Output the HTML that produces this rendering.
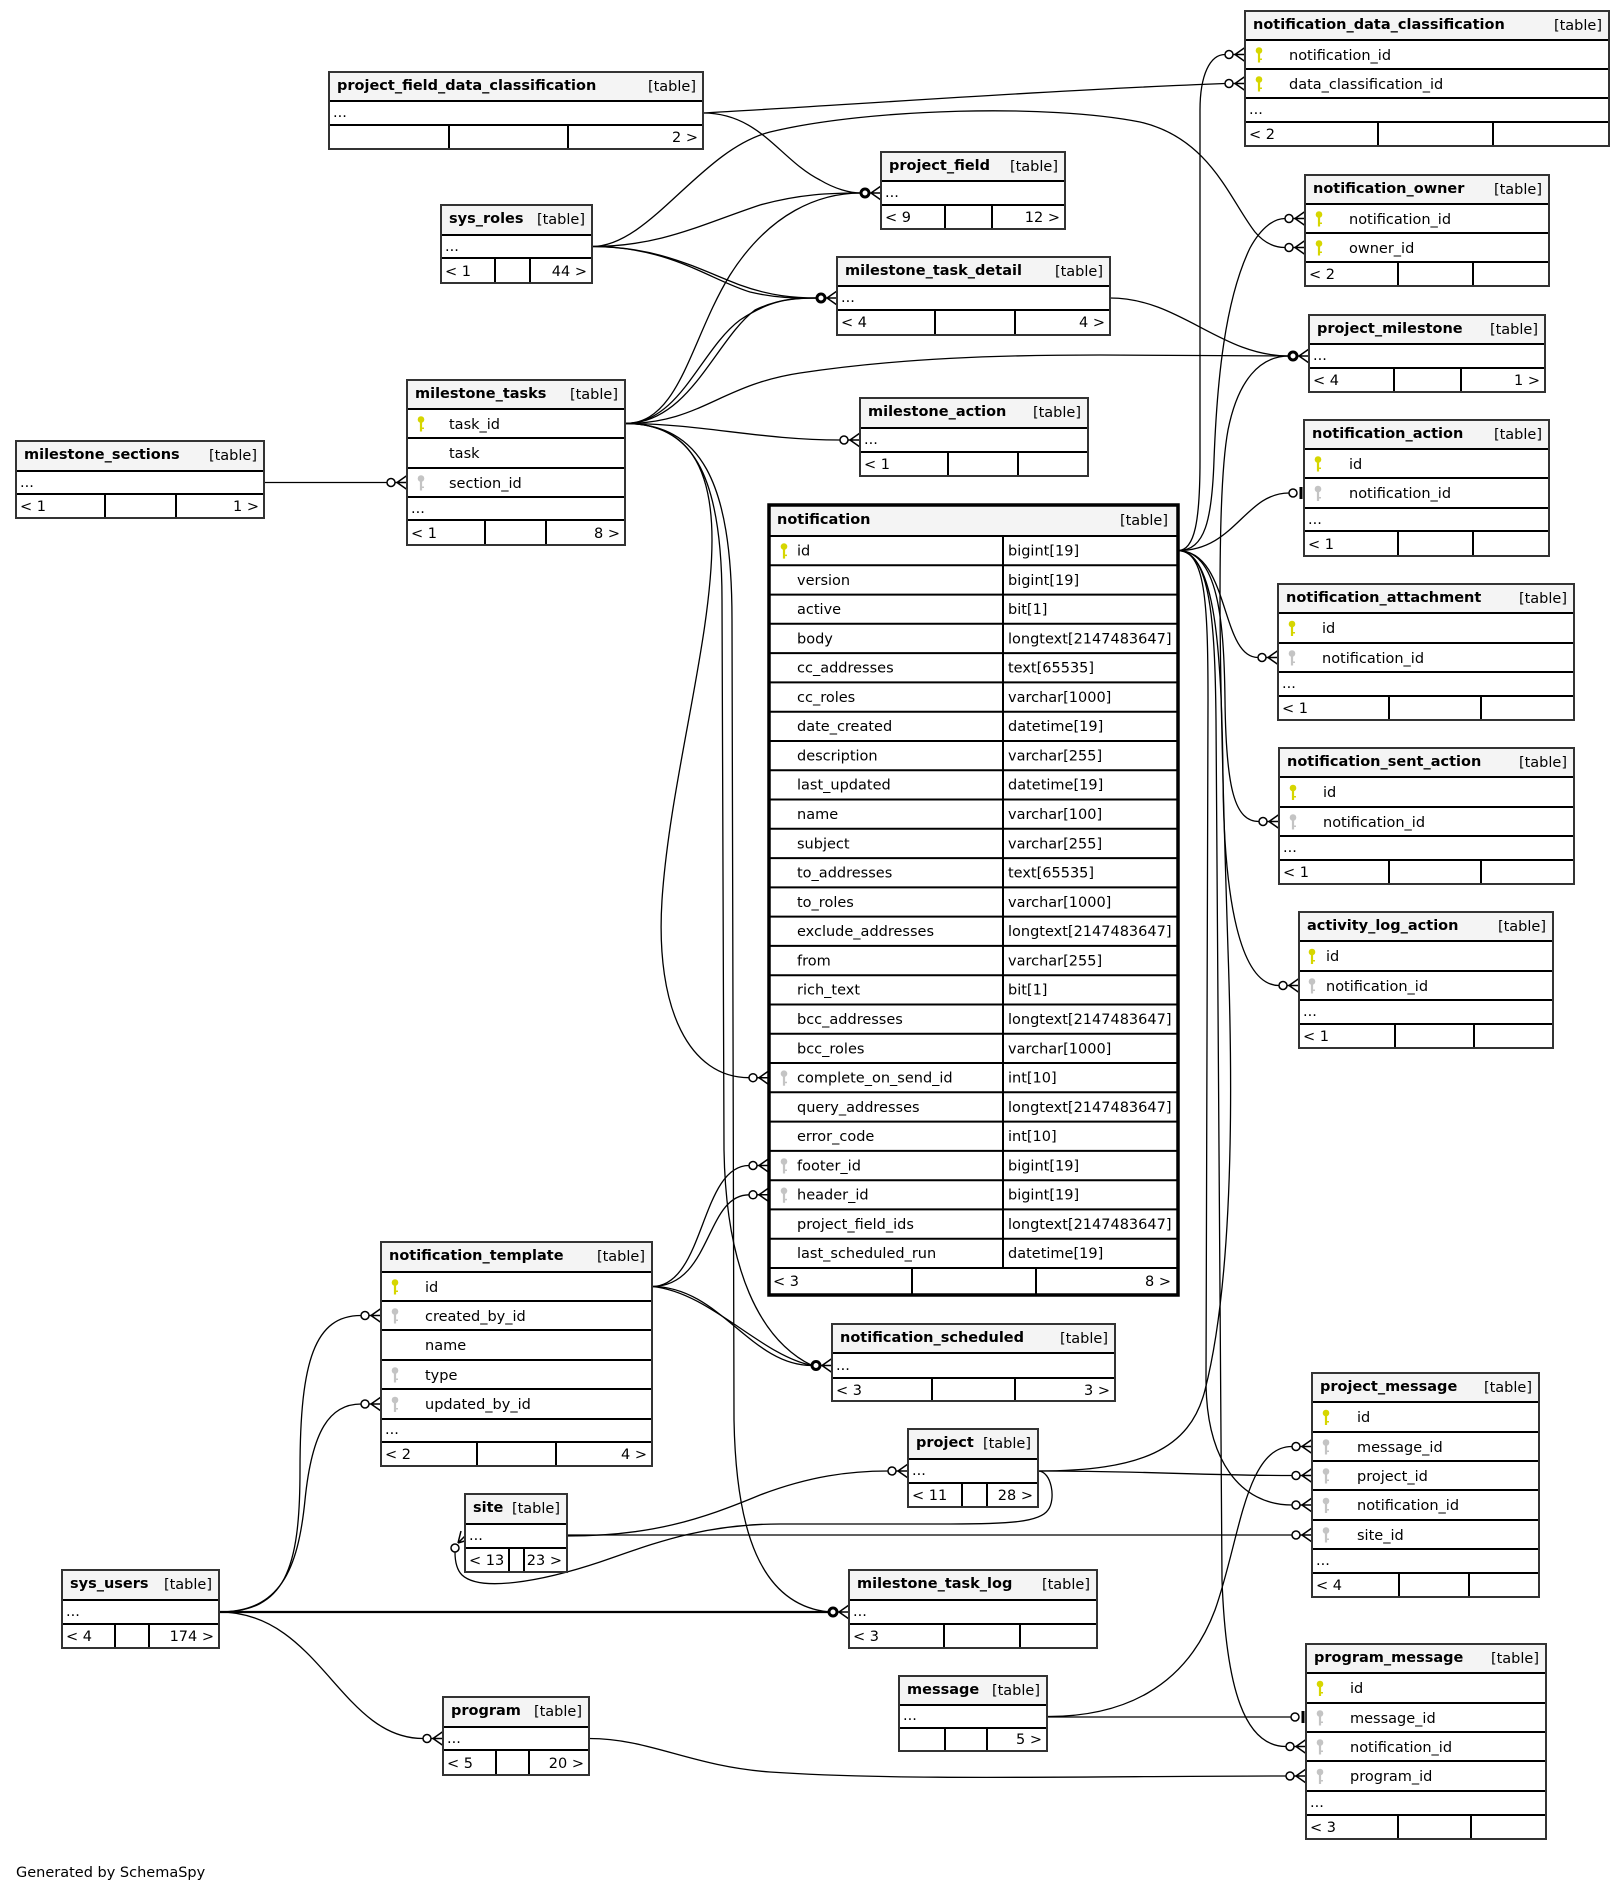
<!DOCTYPE html>
<html><head><meta charset="utf-8"><style>
html,body{margin:0;padding:0;background:#fff;}
svg{display:block}
svg text{font-family:"DejaVu Sans","Liberation Sans",sans-serif;font-size:14.5px;fill:#000}
.b{font-weight:bold}
.e{text-anchor:end}
.w{fill:#fff}
.h{fill:#f4f4f4}
.ln{stroke:#000;stroke-width:2;fill:none}
.bd{fill:none;stroke:#333;stroke-width:2}
.ed{fill:none;stroke:#000;stroke-width:1.3}
.mk{fill:#fff;stroke:#000;stroke-width:1.5}
.mt{fill:#fff;stroke:#000;stroke-width:3}
.cf{fill:none;stroke:#000;stroke-width:1.5}
.pk{fill:#d6d600}
.fk{fill:#c4c4c4}
</style></head><body>
<svg width="1624" height="1893" viewBox="0 0 1624 1893" xmlns="http://www.w3.org/2000/svg">
<rect width="1624" height="1893" fill="#fff"/>

<!-- ================= EDGES ================= -->
<g class="ed">
<path d="M264 482.5H387"/>
<path d="M625 423.5C680 423.5 690 340 730 275C770 212 820 193 861 193"/>
<path d="M625 423.5C680 423.5 700 350 740 320C770 300 790 298 817 298"/>
<path d="M625 423.5C690 423.5 715 340 755 310C780 298 800 298 817 298"/>
<path d="M592 246.5C660 246.5 700 270 740 285C770 296 795 298 817 298"/>
<path d="M592 246.5C670 246.5 710 280 750 292C780 299 800 298 817 298"/>
<path d="M592 246.5C660 246.5 700 225 760 205C800 194 830 193 861 193"/>
<path d="M592 246.5C650 246.5 700 150 770 132C870 108 1050 104 1140 122C1210 138 1230 200 1255 232C1265 244 1275 247.5 1285 247.5"/>
<path d="M703 113C800 108 1050 90 1225 83.5"/>
<path d="M703 113C760 113 780 160 820 180C835 189 850 193 861 193"/>
<path d="M625 423.5C700 423.5 720 385 800 373C900 358 1000 355 1100 355L1289 356"/>
<path d="M1110 298C1180 298 1220 356 1289 356"/>
<path d="M625 423.5C700 423.5 760 440 840 440"/>
<path d="M625 423.5C690 423.5 712 470 712 540C712 640 670 780 662 900C655 1010 690 1077.7 749 1077.7"/>
<path d="M625 423.5C690 423.5 722 470 722 600L724 1150C726 1270 760 1340 812 1365.5"/>
<path d="M625 423.5C700 423.5 732 480 732 620L734 1420C736 1530 760 1605 829 1612"/>
<path d="M652 1286.5C705 1286.5 700 1165.5 749 1165.5"/>
<path d="M652 1286.5C712 1286.5 705 1194.8 749 1194.8"/>
<path d="M652 1286.5C720 1286.5 750 1365.5 812 1365.5"/>
<path d="M652 1286.5C710 1292 760 1355 812 1365.5"/>
<path d="M219 1612C285 1612 300 1570 300 1470C300 1360 315 1315.5 361 1315.5"/>
<path d="M219 1612C280 1612 298 1570 305 1500C312 1430 330 1404 361 1404"/>
<path d="M219 1612H829" style="stroke-width:2.2"/>
<path d="M219 1612C320 1612 340 1738.5 423 1738.5"/>
<path d="M589 1738.5C650 1738.5 690 1766 770 1772C900 1781 1100 1776 1286 1776"/>
<path d="M1048 1717H1291"/>
<path d="M1048 1716.5C1120 1716.5 1185 1690 1215 1610C1240 1540 1245 1446.5 1292 1446.5"/>
<path d="M1038 1471C1150 1471 1200 1475.5 1292 1475.5"/>
<path d="M1038 1471C1140 1471 1190 1450 1205 1390C1228 1300 1235 1150 1228 950C1220 700 1215 500 1228 430C1238 380 1260 356 1289 356"/>
<path d="M567 1536C650 1536 700 1520 760 1495C810 1476 850 1471 888 1471"/>
<path d="M567 1535H1292"/>
<path d="M1038 1471C1052 1471 1056 1500 1048 1510C1040 1522 1010 1524 950 1524L780 1524C700 1524 650 1545 600 1562C540 1582 480 1592 462 1575C456 1569 455 1560 455 1552"/>
<path d="M1178 550.6C1195 550.6 1200 520 1200 460L1200 110C1200 75 1210 54.5 1225 54.5"/>
<path d="M1178 550.6C1205 550.6 1212 520 1214 460C1217 380 1225 300 1250 248C1262 226 1275 218.5 1285 218.5"/>
<path d="M1178 550.6C1235 550.6 1245 493 1289 493"/>
<path d="M1178 550.6C1230 550.6 1220 657.5 1258 657.5"/>
<path d="M1178 550.6C1218 550.6 1224 620 1225 700C1226 790 1235 821.5 1259 821.5"/>
<path d="M1178 550.6C1215 550.6 1222 650 1223 780C1224 900 1240 985.5 1279 985.5"/>
<path d="M1178 550.6C1205 550.6 1208 600 1208 700L1206 1380C1206 1460 1240 1505 1292 1505"/>
<path d="M1178 550.6C1210 550.6 1215 620 1216 720L1222 1580C1226 1690 1245 1746.5 1286 1746.5"/>
</g>

<!-- ================= MARKERS ================= -->
<!-- crow + odot: circle at bx-16, crow tip at bx-10 -->
<g>
<circle class="mk" cx="391" cy="482.5" r="4"/><path class="cf" d="M397 482.5L407 475.5M397 482.5L407 489.5M395 482.5H407"/>
<circle class="mt" cx="865" cy="193" r="4"/><path class="cf" d="M871 193L881 186M871 193L881 200M869 193H881"/>
<circle class="mt" cx="821" cy="298" r="4"/><path class="cf" d="M827 298L837 291M827 298L837 305M825 298H837"/>
<circle class="mk" cx="1229" cy="54.5" r="4"/><path class="cf" d="M1235 54.5L1245 47.5M1235 54.5L1245 61.5M1233 54.5H1245"/>
<circle class="mk" cx="1229" cy="83.5" r="4"/><path class="cf" d="M1235 83.5L1245 76.5M1235 83.5L1245 90.5M1233 83.5H1245"/>
<circle class="mk" cx="1289" cy="218.5" r="4"/><path class="cf" d="M1295 218.5L1305 211.5M1295 218.5L1305 225.5M1293 218.5H1305"/>
<circle class="mk" cx="1289" cy="247.5" r="4"/><path class="cf" d="M1295 247.5L1305 240.5M1295 247.5L1305 254.5M1293 247.5H1305"/>
<circle class="mt" cx="1293" cy="356" r="4"/><path class="cf" d="M1299 356L1309 349M1299 356L1309 363M1297 356H1309"/>
<circle class="mk" cx="844" cy="440" r="4"/><path class="cf" d="M850 440L860 433M850 440L860 447M848 440H860"/>
<circle class="mk" cx="1262" cy="657.5" r="4"/><path class="cf" d="M1268 657.5L1278 650.5M1268 657.5L1278 664.5M1266 657.5H1278"/>
<circle class="mk" cx="1263" cy="821.5" r="4"/><path class="cf" d="M1269 821.5L1279 814.5M1269 821.5L1279 828.5M1267 821.5H1279"/>
<circle class="mk" cx="1283" cy="985.5" r="4"/><path class="cf" d="M1289 985.5L1299 978.5M1289 985.5L1299 992.5M1287 985.5H1299"/>
<circle class="mk" cx="753" cy="1077.7" r="4"/><path class="cf" d="M759 1077.7L769 1070.7M759 1077.7L769 1084.7M757 1077.7H769"/>
<circle class="mk" cx="753" cy="1165.5" r="4"/><path class="cf" d="M759 1165.5L769 1158.5M759 1165.5L769 1172.5M757 1165.5H769"/>
<circle class="mk" cx="753" cy="1194.8" r="4"/><path class="cf" d="M759 1194.8L769 1187.8M759 1194.8L769 1201.8M757 1194.8H769"/>
<circle class="mk" cx="365" cy="1315.5" r="4"/><path class="cf" d="M371 1315.5L381 1308.5M371 1315.5L381 1322.5M369 1315.5H381"/>
<circle class="mk" cx="365" cy="1404" r="4"/><path class="cf" d="M371 1404L381 1397M371 1404L381 1411M369 1404H381"/>
<circle class="mt" cx="816" cy="1365.5" r="4"/><path class="cf" d="M822 1365.5L832 1358.5M822 1365.5L832 1372.5M820 1365.5H832"/>
<circle class="mk" cx="892" cy="1471" r="4"/><path class="cf" d="M898 1471L908 1464M898 1471L908 1478M896 1471H908"/>
<circle class="mt" cx="833" cy="1612" r="4"/><path class="cf" d="M839 1612L849 1605M839 1612L849 1619M837 1612H849"/>
<circle class="mk" cx="427" cy="1738.5" r="4"/><path class="cf" d="M433 1738.5L443 1731.5M433 1738.5L443 1745.5M431 1738.5H443"/>
<circle class="mk" cx="1296" cy="1446.5" r="4"/><path class="cf" d="M1302 1446.5L1312 1439.5M1302 1446.5L1312 1453.5M1300 1446.5H1312"/>
<circle class="mk" cx="1296" cy="1475.5" r="4"/><path class="cf" d="M1302 1475.5L1312 1468.5M1302 1475.5L1312 1482.5M1300 1475.5H1312"/>
<circle class="mk" cx="1296" cy="1505" r="4"/><path class="cf" d="M1302 1505L1312 1498M1302 1505L1312 1512M1300 1505H1312"/>
<circle class="mk" cx="1296" cy="1535" r="4"/><path class="cf" d="M1302 1535L1312 1528M1302 1535L1312 1542M1300 1535H1312"/>
<circle class="mk" cx="1290" cy="1746.5" r="4"/><path class="cf" d="M1296 1746.5L1306 1739.5M1296 1746.5L1306 1753.5M1294 1746.5H1306"/>
<circle class="mk" cx="1290" cy="1776" r="4"/><path class="cf" d="M1296 1776L1306 1769M1296 1776L1306 1783M1294 1776H1306"/>
<!-- tee + odot -->
<circle class="mk" cx="1293" cy="493" r="4"/><path d="M1301 487V499" stroke="#000" stroke-width="3"/>
<circle class="mk" cx="1295" cy="1717" r="4"/><path d="M1303 1711V1723" stroke="#000" stroke-width="3"/>
<!-- site loop marker -->
<circle class="mk" cx="455" cy="1548" r="4"/><path class="cf" d="M458 1543L461 1531M458 1543L468 1540M458 1543L465 1536"/>
</g>

<!-- ================= TABLES ================= -->

<!-- project_field_data_classification -->
<rect class="w" x="329" y="72" width="374" height="77"/><rect class="h" x="329" y="72" width="374" height="29"/>
<path class="ln" d="M329 101H703M329 125H703M449 125V149M568 125V149"/>
<rect class="bd" x="329" y="72" width="374" height="77"/>
<text x="337" y="90" class="b">project_field_data_classification</text><text x="696" y="91" class="e">[table]</text>
<text x="333" y="117">...</text><text x="698" y="142" class="e">2 &gt;</text>

<!-- sys_roles -->
<rect class="w" x="441" y="205" width="151" height="78"/><rect class="h" x="441" y="205" width="151" height="30"/>
<path class="ln" d="M441 235H592M441 258H592M495 258V283M530 258V283"/>
<rect class="bd" x="441" y="205" width="151" height="78"/>
<text x="449" y="223" class="b">sys_roles</text><text x="585" y="224" class="e">[table]</text>
<text x="445" y="251">...</text><text x="445" y="276">&lt; 1</text><text x="587" y="276" class="e">44 &gt;</text>

<!-- milestone_tasks -->
<rect class="w" x="407" y="380" width="218" height="165"/><rect class="h" x="407" y="380" width="218" height="29"/>
<path class="ln" d="M407 409H625M407 438H625M407 468H625M407 497H625M407 520H625M485 520V545M546 520V545"/>
<rect class="bd" x="407" y="380" width="218" height="165"/>
<text x="415" y="398" class="b">milestone_tasks</text><text x="618" y="399" class="e">[table]</text>
<g class="pk"><circle cx="421" cy="419.5" r="3.3"/><rect x="419.9" y="420.5" width="2.2" height="11"/><rect x="422" y="427.5" width="2" height="1.5"/></g>
<text x="449" y="429">task_id</text>
<text x="449" y="458">task</text>
<g class="fk"><circle cx="421" cy="478.5" r="3.3"/><rect x="419.9" y="479.5" width="2.2" height="11"/><rect x="422" y="486.5" width="2" height="1.5"/></g>
<text x="449" y="488">section_id</text>
<text x="411" y="513">...</text><text x="411" y="538">&lt; 1</text><text x="620" y="538" class="e">8 &gt;</text>

<!-- milestone_sections -->
<rect class="w" x="16" y="441" width="248" height="77"/><rect class="h" x="16" y="441" width="248" height="30"/>
<path class="ln" d="M16 471H264M16 494H264M105 494V518M176 494V518"/>
<rect class="bd" x="16" y="441" width="248" height="77"/>
<text x="24" y="459" class="b">milestone_sections</text><text x="257" y="460" class="e">[table]</text>
<text x="20" y="487">...</text><text x="20" y="511">&lt; 1</text><text x="259" y="511" class="e">1 &gt;</text>

<!-- notification_data_classification -->
<rect class="w" x="1245" y="11" width="364" height="135"/><rect class="h" x="1245" y="11" width="364" height="29"/>
<path class="ln" d="M1245 40H1609M1245 69H1609M1245 98H1609M1245 122H1609M1378 122V146M1493 122V146"/>
<rect class="bd" x="1245" y="11" width="364" height="135"/>
<text x="1253" y="29" class="b">notification_data_classification</text><text x="1602" y="30" class="e">[table]</text>
<g class="pk"><circle cx="1259" cy="50.5" r="3.3"/><rect x="1257.9" y="51.5" width="2.2" height="11"/><rect x="1260" y="58.5" width="2" height="1.5"/></g>
<text x="1289" y="60">notification_id</text>
<g class="pk"><circle cx="1259" cy="79.5" r="3.3"/><rect x="1257.9" y="80.5" width="2.2" height="11"/><rect x="1260" y="87.5" width="2" height="1.5"/></g>
<text x="1289" y="89">data_classification_id</text>
<text x="1249" y="114">...</text><text x="1249" y="139">&lt; 2</text>

<!-- project_field -->
<rect class="w" x="881" y="152" width="184" height="77"/><rect class="h" x="881" y="152" width="184" height="29"/>
<path class="ln" d="M881 181H1065M881 205H1065M945 205V229M992 205V229"/>
<rect class="bd" x="881" y="152" width="184" height="77"/>
<text x="889" y="170" class="b">project_field</text><text x="1058" y="171" class="e">[table]</text>
<text x="885" y="197">...</text><text x="885" y="222">&lt; 9</text><text x="1060" y="222" class="e">12 &gt;</text>

<!-- notification_owner -->
<rect class="w" x="1305" y="175" width="244" height="111"/><rect class="h" x="1305" y="175" width="244" height="29"/>
<path class="ln" d="M1305 204H1549M1305 233H1549M1305 262H1549M1398 262V286M1473 262V286"/>
<rect class="bd" x="1305" y="175" width="244" height="111"/>
<text x="1313" y="193" class="b">notification_owner</text><text x="1542" y="194" class="e">[table]</text>
<g class="pk"><circle cx="1319" cy="214.5" r="3.3"/><rect x="1317.9" y="215.5" width="2.2" height="11"/><rect x="1320" y="222.5" width="2" height="1.5"/></g>
<text x="1349" y="224">notification_id</text>
<g class="pk"><circle cx="1319" cy="243.5" r="3.3"/><rect x="1317.9" y="244.5" width="2.2" height="11"/><rect x="1320" y="251.5" width="2" height="1.5"/></g>
<text x="1349" y="253">owner_id</text>
<text x="1309" y="279">&lt; 2</text>

<!-- milestone_task_detail -->
<rect class="w" x="837" y="257" width="273" height="78"/><rect class="h" x="837" y="257" width="273" height="29"/>
<path class="ln" d="M837 286H1110M837 310H1110M935 310V335M1015 310V335"/>
<rect class="bd" x="837" y="257" width="273" height="78"/>
<text x="845" y="275" class="b">milestone_task_detail</text><text x="1103" y="276" class="e">[table]</text>
<text x="841" y="302">...</text><text x="841" y="327">&lt; 4</text><text x="1105" y="327" class="e">4 &gt;</text>

<!-- project_milestone -->
<rect class="w" x="1309" y="315" width="236" height="77"/><rect class="h" x="1309" y="315" width="236" height="29"/>
<path class="ln" d="M1309 344H1545M1309 368H1545M1394 368V392M1461 368V392"/>
<rect class="bd" x="1309" y="315" width="236" height="77"/>
<text x="1317" y="333" class="b">project_milestone</text><text x="1538" y="334" class="e">[table]</text>
<text x="1313" y="360">...</text><text x="1313" y="385">&lt; 4</text><text x="1540" y="385" class="e">1 &gt;</text>

<!-- milestone_action -->
<rect class="w" x="860" y="398" width="228" height="78"/><rect class="h" x="860" y="398" width="228" height="30"/>
<path class="ln" d="M860 428H1088M860 452H1088M948 452V476M1018 452V476"/>
<rect class="bd" x="860" y="398" width="228" height="78"/>
<text x="868" y="416" class="b">milestone_action</text><text x="1081" y="417" class="e">[table]</text>
<text x="864" y="444">...</text><text x="864" y="469">&lt; 1</text>

<!-- notification_action -->
<rect class="w" x="1304" y="420" width="245" height="136"/><rect class="h" x="1304" y="420" width="245" height="29"/>
<path class="ln" d="M1304 449H1549M1304 478H1549M1304 508H1549M1304 531H1549M1398 531V556M1473 531V556"/>
<rect class="bd" x="1304" y="420" width="245" height="136"/>
<text x="1312" y="438" class="b">notification_action</text><text x="1542" y="439" class="e">[table]</text>
<g class="pk"><circle cx="1318" cy="459.5" r="3.3"/><rect x="1316.9" y="460.5" width="2.2" height="11"/><rect x="1319" y="467.5" width="2" height="1.5"/></g>
<text x="1349" y="469">id</text>
<g class="fk"><circle cx="1318" cy="489" r="3.3"/><rect x="1316.9" y="490" width="2.2" height="11"/><rect x="1319" y="497" width="2" height="1.5"/></g>
<text x="1349" y="498">notification_id</text>
<text x="1308" y="524">...</text><text x="1308" y="549">&lt; 1</text>

<!-- notification_attachment -->
<rect class="w" x="1278" y="584" width="296" height="136"/><rect class="h" x="1278" y="584" width="296" height="29"/>
<path class="ln" d="M1278 613H1574M1278 643H1574M1278 672H1574M1278 696H1574M1389 696V720M1481 696V720"/>
<rect class="bd" x="1278" y="584" width="296" height="136"/>
<text x="1286" y="602" class="b">notification_attachment</text><text x="1567" y="603" class="e">[table]</text>
<g class="pk"><circle cx="1292" cy="624" r="3.3"/><rect x="1290.9" y="625" width="2.2" height="11"/><rect x="1293" y="632" width="2" height="1.5"/></g>
<text x="1322" y="633">id</text>
<g class="fk"><circle cx="1292" cy="653.5" r="3.3"/><rect x="1290.9" y="654.5" width="2.2" height="11"/><rect x="1293" y="661.5" width="2" height="1.5"/></g>
<text x="1322" y="663">notification_id</text>
<text x="1282" y="688">...</text><text x="1282" y="713">&lt; 1</text>

<!-- notification_sent_action -->
<rect class="w" x="1279" y="748" width="295" height="136"/><rect class="h" x="1279" y="748" width="295" height="29"/>
<path class="ln" d="M1279 777H1574M1279 807H1574M1279 836H1574M1279 860H1574M1389 860V884M1481 860V884"/>
<rect class="bd" x="1279" y="748" width="295" height="136"/>
<text x="1287" y="766" class="b">notification_sent_action</text><text x="1567" y="767" class="e">[table]</text>
<g class="pk"><circle cx="1293" cy="788" r="3.3"/><rect x="1291.9" y="789" width="2.2" height="11"/><rect x="1294" y="796" width="2" height="1.5"/></g>
<text x="1323" y="797">id</text>
<g class="fk"><circle cx="1293" cy="817.5" r="3.3"/><rect x="1291.9" y="818.5" width="2.2" height="11"/><rect x="1294" y="825.5" width="2" height="1.5"/></g>
<text x="1323" y="827">notification_id</text>
<text x="1283" y="852">...</text><text x="1283" y="877">&lt; 1</text>

<!-- activity_log_action -->
<rect class="w" x="1299" y="912" width="254" height="136"/><rect class="h" x="1299" y="912" width="254" height="29"/>
<path class="ln" d="M1299 941H1553M1299 971H1553M1299 1000H1553M1299 1024H1553M1395 1024V1048M1474 1024V1048"/>
<rect class="bd" x="1299" y="912" width="254" height="136"/>
<text x="1307" y="930" class="b">activity_log_action</text><text x="1546" y="931" class="e">[table]</text>
<g class="pk"><circle cx="1312" cy="952" r="3.3"/><rect x="1310.9" y="953" width="2.2" height="11"/><rect x="1313" y="960" width="2" height="1.5"/></g>
<text x="1326" y="961">id</text>
<g class="fk"><circle cx="1312" cy="981.5" r="3.3"/><rect x="1310.9" y="982.5" width="2.2" height="11"/><rect x="1313" y="989.5" width="2" height="1.5"/></g>
<text x="1326" y="991">notification_id</text>
<text x="1303" y="1016">...</text><text x="1303" y="1041">&lt; 1</text>

<!-- notification -->
<rect class="w" x="769" y="505" width="409" height="790"/><rect class="h" x="769" y="505" width="409" height="31"/>
<path class="ln" d="M769 536H1178M769 565.3H1178M769 594.6H1178M769 623.8H1178M769 653.1H1178M769 682.4H1178M769 711.7H1178M769 741H1178M769 770.2H1178M769 799.5H1178M769 828.8H1178M769 858.1H1178M769 887.4H1178M769 916.6H1178M769 945.9H1178M769 975.2H1178M769 1004.5H1178M769 1033.8H1178M769 1063H1178M769 1092.3H1178M769 1121.6H1178M769 1150.9H1178M769 1180.2H1178M769 1209.4H1178M769 1238.7H1178M769 1268H1178M1003 536V1268M912 1268V1295M1036 1268V1295"/>
<rect x="769" y="505" width="409" height="790" fill="none" stroke="#000" stroke-width="3.5"/>
<text x="777" y="524" class="b">notification</text><text x="1168" y="525" class="e">[table]</text>
<g class="pk"><circle cx="784" cy="546.6" r="3.3"/><rect x="782.9" y="547.6" width="2.2" height="11"/><rect x="785" y="554.6" width="2" height="1.5"/></g>
<text x="797" y="555.5">id</text><text x="1008" y="555.5">bigint[19]</text>
<text x="797" y="584.8">version</text><text x="1008" y="584.8">bigint[19]</text>
<text x="797" y="614.1">active</text><text x="1008" y="614.1">bit[1]</text>
<text x="797" y="643.3">body</text><text x="1008" y="643.3">longtext[2147483647]</text>
<text x="797" y="672.6">cc_addresses</text><text x="1008" y="672.6">text[65535]</text>
<text x="797" y="701.9">cc_roles</text><text x="1008" y="701.9">varchar[1000]</text>
<text x="797" y="731.2">date_created</text><text x="1008" y="731.2">datetime[19]</text>
<text x="797" y="760.5">description</text><text x="1008" y="760.5">varchar[255]</text>
<text x="797" y="789.7">last_updated</text><text x="1008" y="789.7">datetime[19]</text>
<text x="797" y="819">name</text><text x="1008" y="819">varchar[100]</text>
<text x="797" y="848.3">subject</text><text x="1008" y="848.3">varchar[255]</text>
<text x="797" y="877.6">to_addresses</text><text x="1008" y="877.6">text[65535]</text>
<text x="797" y="906.9">to_roles</text><text x="1008" y="906.9">varchar[1000]</text>
<text x="797" y="936.1">exclude_addresses</text><text x="1008" y="936.1">longtext[2147483647]</text>
<text x="797" y="965.4">from</text><text x="1008" y="965.4">varchar[255]</text>
<text x="797" y="994.7">rich_text</text><text x="1008" y="994.7">bit[1]</text>
<text x="797" y="1024">bcc_addresses</text><text x="1008" y="1024">longtext[2147483647]</text>
<text x="797" y="1053.3">bcc_roles</text><text x="1008" y="1053.3">varchar[1000]</text>
<g class="fk"><circle cx="784" cy="1073.7" r="3.3"/><rect x="782.9" y="1074.7" width="2.2" height="11"/><rect x="785" y="1081.7" width="2" height="1.5"/></g>
<text x="797" y="1082.5">complete_on_send_id</text><text x="1008" y="1082.5">int[10]</text>
<text x="797" y="1111.8">query_addresses</text><text x="1008" y="1111.8">longtext[2147483647]</text>
<text x="797" y="1141.1">error_code</text><text x="1008" y="1141.1">int[10]</text>
<g class="fk"><circle cx="784" cy="1161.5" r="3.3"/><rect x="782.9" y="1162.5" width="2.2" height="11"/><rect x="785" y="1169.5" width="2" height="1.5"/></g>
<text x="797" y="1170.4">footer_id</text><text x="1008" y="1170.4">bigint[19]</text>
<g class="fk"><circle cx="784" cy="1190.8" r="3.3"/><rect x="782.9" y="1191.8" width="2.2" height="11"/><rect x="785" y="1198.8" width="2" height="1.5"/></g>
<text x="797" y="1199.7">header_id</text><text x="1008" y="1199.7">bigint[19]</text>
<text x="797" y="1228.9">project_field_ids</text><text x="1008" y="1228.9">longtext[2147483647]</text>
<text x="797" y="1258.2">last_scheduled_run</text><text x="1008" y="1258.2">datetime[19]</text>
<text x="773" y="1286">&lt; 3</text><text x="1171" y="1286" class="e">8 &gt;</text>

<!-- notification_template -->
<rect class="w" x="381" y="1242" width="271" height="224"/><rect class="h" x="381" y="1242" width="271" height="30"/>
<path class="ln" d="M381 1272H652M381 1301H652M381 1330H652M381 1360H652M381 1389H652M381 1419H652M381 1442H652M477 1442V1466M556 1442V1466"/>
<rect class="bd" x="381" y="1242" width="271" height="224"/>
<text x="389" y="1260" class="b">notification_template</text><text x="645" y="1261" class="e">[table]</text>
<g class="pk"><circle cx="395" cy="1282.5" r="3.3"/><rect x="393.9" y="1283.5" width="2.2" height="11"/><rect x="396" y="1290.5" width="2" height="1.5"/></g>
<text x="425" y="1292">id</text>
<g class="fk"><circle cx="395" cy="1311.5" r="3.3"/><rect x="393.9" y="1312.5" width="2.2" height="11"/><rect x="396" y="1319.5" width="2" height="1.5"/></g>
<text x="425" y="1321">created_by_id</text>
<text x="425" y="1350">name</text>
<g class="fk"><circle cx="395" cy="1370.5" r="3.3"/><rect x="393.9" y="1371.5" width="2.2" height="11"/><rect x="396" y="1378.5" width="2" height="1.5"/></g>
<text x="425" y="1380">type</text>
<g class="fk"><circle cx="395" cy="1400" r="3.3"/><rect x="393.9" y="1401" width="2.2" height="11"/><rect x="396" y="1408" width="2" height="1.5"/></g>
<text x="425" y="1409">updated_by_id</text>
<text x="385" y="1434">...</text><text x="385" y="1459">&lt; 2</text><text x="647" y="1459" class="e">4 &gt;</text>

<!-- notification_scheduled -->
<rect class="w" x="832" y="1324" width="283" height="77"/><rect class="h" x="832" y="1324" width="283" height="29"/>
<path class="ln" d="M832 1353H1115M832 1378H1115M932 1378V1401M1015 1378V1401"/>
<rect class="bd" x="832" y="1324" width="283" height="77"/>
<text x="840" y="1342" class="b">notification_scheduled</text><text x="1108" y="1343" class="e">[table]</text>
<text x="836" y="1370">...</text><text x="836" y="1395">&lt; 3</text><text x="1110" y="1395" class="e">3 &gt;</text>

<!-- project -->
<rect class="w" x="908" y="1429" width="130" height="78"/><rect class="h" x="908" y="1429" width="130" height="30"/>
<path class="ln" d="M908 1459H1038M908 1483H1038M962 1483V1507M987 1483V1507"/>
<rect class="bd" x="908" y="1429" width="130" height="78"/>
<text x="916" y="1447" class="b">project</text><text x="1031" y="1448" class="e">[table]</text>
<text x="912" y="1475">...</text><text x="912" y="1500">&lt; 11</text><text x="1033" y="1500" class="e">28 &gt;</text>

<!-- milestone_task_log -->
<rect class="w" x="849" y="1570" width="248" height="78"/><rect class="h" x="849" y="1570" width="248" height="30"/>
<path class="ln" d="M849 1600H1097M849 1624H1097M944 1624V1648M1020 1624V1648"/>
<rect class="bd" x="849" y="1570" width="248" height="78"/>
<text x="857" y="1588" class="b">milestone_task_log</text><text x="1090" y="1589" class="e">[table]</text>
<text x="853" y="1616">...</text><text x="853" y="1641">&lt; 3</text>

<!-- message -->
<rect class="w" x="899" y="1676" width="148" height="75"/><rect class="h" x="899" y="1676" width="148" height="29"/>
<path class="ln" d="M899 1705H1047M899 1728H1047M945 1728V1751M987 1728V1751"/>
<rect class="bd" x="899" y="1676" width="148" height="75"/>
<text x="907" y="1694" class="b">message</text><text x="1040" y="1695" class="e">[table]</text>
<text x="903" y="1720">...</text><text x="1042" y="1744" class="e">5 &gt;</text>

<!-- site -->
<rect class="w" x="465" y="1494" width="102" height="78"/><rect class="h" x="465" y="1494" width="102" height="30"/>
<path class="ln" d="M465 1524H567M465 1548H567M509 1548V1572M524 1548V1572"/>
<rect class="bd" x="465" y="1494" width="102" height="78"/>
<text x="473" y="1512" class="b">site</text><text x="560" y="1513" class="e">[table]</text>
<text x="469" y="1540">...</text><text x="469" y="1565">&lt; 13</text><text x="562" y="1565" class="e">23 &gt;</text>

<!-- sys_users -->
<rect class="w" x="62" y="1570" width="157" height="78"/><rect class="h" x="62" y="1570" width="157" height="30"/>
<path class="ln" d="M62 1600H219M62 1624H219M115 1624V1648M149 1624V1648"/>
<rect class="bd" x="62" y="1570" width="157" height="78"/>
<text x="70" y="1588" class="b">sys_users</text><text x="212" y="1589" class="e">[table]</text>
<text x="66" y="1616">...</text><text x="66" y="1641">&lt; 4</text><text x="214" y="1641" class="e">174 &gt;</text>

<!-- program -->
<rect class="w" x="443" y="1697" width="146" height="78"/><rect class="h" x="443" y="1697" width="146" height="30"/>
<path class="ln" d="M443 1727H589M443 1750H589M496 1750V1775M529 1750V1775"/>
<rect class="bd" x="443" y="1697" width="146" height="78"/>
<text x="451" y="1715" class="b">program</text><text x="582" y="1716" class="e">[table]</text>
<text x="447" y="1743">...</text><text x="447" y="1768">&lt; 5</text><text x="584" y="1768" class="e">20 &gt;</text>

<!-- project_message -->
<rect class="w" x="1312" y="1373" width="227" height="224"/><rect class="h" x="1312" y="1373" width="227" height="29"/>
<path class="ln" d="M1312 1402H1539M1312 1432H1539M1312 1461H1539M1312 1490H1539M1312 1520H1539M1312 1549H1539M1312 1573H1539M1399 1573V1597M1469 1573V1597"/>
<rect class="bd" x="1312" y="1373" width="227" height="224"/>
<text x="1320" y="1391" class="b">project_message</text><text x="1532" y="1392" class="e">[table]</text>
<g class="pk"><circle cx="1326" cy="1413" r="3.3"/><rect x="1324.9" y="1414" width="2.2" height="11"/><rect x="1327" y="1421" width="2" height="1.5"/></g>
<text x="1357" y="1422">id</text>
<g class="fk"><circle cx="1326" cy="1442.5" r="3.3"/><rect x="1324.9" y="1443.5" width="2.2" height="11"/><rect x="1327" y="1450.5" width="2" height="1.5"/></g>
<text x="1357" y="1452">message_id</text>
<g class="fk"><circle cx="1326" cy="1471.5" r="3.3"/><rect x="1324.9" y="1472.5" width="2.2" height="11"/><rect x="1327" y="1479.5" width="2" height="1.5"/></g>
<text x="1357" y="1481">project_id</text>
<g class="fk"><circle cx="1326" cy="1501" r="3.3"/><rect x="1324.9" y="1502" width="2.2" height="11"/><rect x="1327" y="1509" width="2" height="1.5"/></g>
<text x="1357" y="1510">notification_id</text>
<g class="fk"><circle cx="1326" cy="1530.5" r="3.3"/><rect x="1324.9" y="1531.5" width="2.2" height="11"/><rect x="1327" y="1538.5" width="2" height="1.5"/></g>
<text x="1357" y="1540">site_id</text>
<text x="1316" y="1565">...</text><text x="1316" y="1590">&lt; 4</text>

<!-- program_message -->
<rect class="w" x="1306" y="1644" width="240" height="195"/><rect class="h" x="1306" y="1644" width="240" height="29"/>
<path class="ln" d="M1306 1673H1546M1306 1703H1546M1306 1732H1546M1306 1761H1546M1306 1791H1546M1306 1815H1546M1398 1815V1839M1471 1815V1839"/>
<rect class="bd" x="1306" y="1644" width="240" height="195"/>
<text x="1314" y="1662" class="b">program_message</text><text x="1539" y="1663" class="e">[table]</text>
<g class="pk"><circle cx="1320" cy="1684" r="3.3"/><rect x="1318.9" y="1685" width="2.2" height="11"/><rect x="1321" y="1692" width="2" height="1.5"/></g>
<text x="1350" y="1693">id</text>
<g class="fk"><circle cx="1320" cy="1713.5" r="3.3"/><rect x="1318.9" y="1714.5" width="2.2" height="11"/><rect x="1321" y="1721.5" width="2" height="1.5"/></g>
<text x="1350" y="1723">message_id</text>
<g class="fk"><circle cx="1320" cy="1742.5" r="3.3"/><rect x="1318.9" y="1743.5" width="2.2" height="11"/><rect x="1321" y="1750.5" width="2" height="1.5"/></g>
<text x="1350" y="1752">notification_id</text>
<g class="fk"><circle cx="1320" cy="1772" r="3.3"/><rect x="1318.9" y="1773" width="2.2" height="11"/><rect x="1321" y="1780" width="2" height="1.5"/></g>
<text x="1350" y="1781">program_id</text>
<text x="1310" y="1807">...</text><text x="1310" y="1832">&lt; 3</text>

<text x="16" y="1877">Generated by SchemaSpy</text>
</svg>
</body></html>
